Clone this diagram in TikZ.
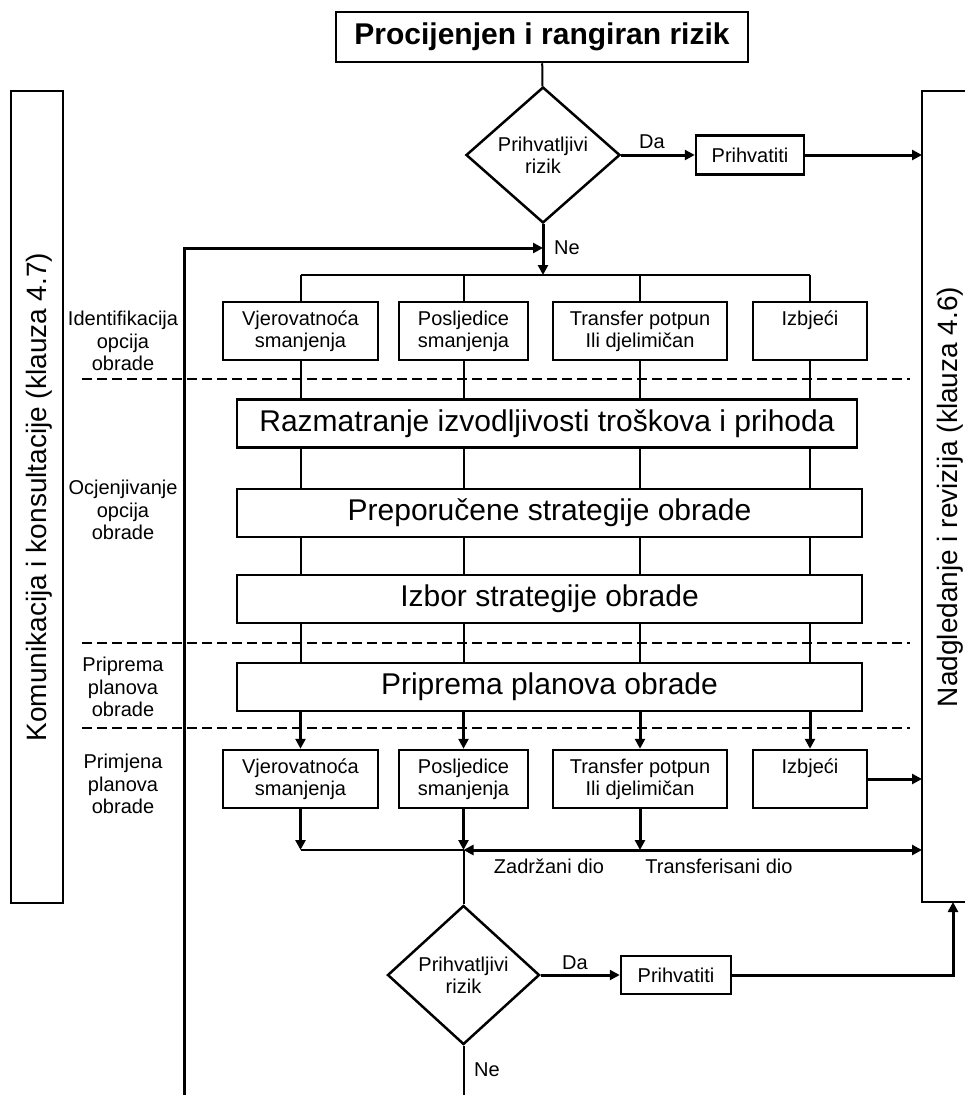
\documentclass[tikz,border=0pt]{standalone}
\usepackage{fontspec}
\setmainfont{Liberation Sans}
\usetikzlibrary{arrows.meta,shapes.geometric}
\begin{document}
\begin{tikzpicture}[x=1pt,y=-1pt,
  font=\fontsize{20}{22}\selectfont,
  bx/.style={draw,line width=2.5pt,inner sep=0pt,align=center},
  smallbox/.style={bx,minimum height=58pt},
  bigbox/.style={bx,minimum height=48pt,minimum width=625pt,font=\fontsize{30}{34}\selectfont},
  dia/.style={draw,diamond,line width=2.5pt,inner sep=0pt,align=center},
  ln/.style={line width=2pt},
  arr/.style={line width=3pt,-{Triangle[length=10pt,width=10pt]}},
  dbl/.style={line width=3pt,{Triangle[length=10pt,width=10pt]}-{Triangle[length=10pt,width=10pt]}},
  dsh/.style={line width=2.5pt,dash pattern=on 10pt off 5pt},
  lbl/.style={inner sep=0pt,align=center},
  phase/.style={lbl,font=\fontsize{20}{22.5}\selectfont},
  side/.style={inner sep=0pt,rotate=90,font=\fontsize{28}{32}\selectfont},
]
\useasboundingbox (0,0) rectangle (965,1095);

% title and first decision
\node[bx,minimum width=412pt,minimum height=50pt,font=\bfseries\fontsize{30}{34}\selectfont] (title) at (542,37) {Procijenjen i rangiran rizik};
\node[dia,minimum width=154pt,minimum height=136pt] (d1) at (543,155) {Prihvatljivi\\rizik};
\node[bx,minimum width=108pt,minimum height=39pt] (p1) at (750,155) {Prihvatiti};

% side boxes
\node[draw,line width=2.5pt,minimum width=52pt,minimum height=812pt,inner sep=0pt] (lbox) at (37,497) {};
\node[side] (llab) at (39,497) {Komunikacija i konsultacije (klauza 4.7)};
\coordinate (rtl) at (922,91);
\coordinate (rbl) at (922,902);
\draw[line width=2.5pt] (990,91) -- (rtl) -- (rbl) -- (990,902);
\node[side] (rlab) at (950,497) {Nadgledanje i revizija (klauza 4.6)};

% phase labels
\node[phase] (ph1) at (123,341) {Identifikacija\\opcija\\obrade};
\node[phase] (ph2) at (123,510) {Ocjenjivanje\\opcija\\obrade};
\node[phase] (ph3) at (123,687) {Priprema\\planova\\obrade};
\node[phase] (ph4) at (123,784) {Primjena\\planova\\obrade};

% dashed separators
\draw[dsh] (82,379) -- (910,379);
\draw[dsh] (82,643) -- (910,643);
\draw[dsh] (82,728) -- (910,728);

% option boxes (top)
\node[smallbox,minimum width=155pt] (t1) at (300.5,331) {Vjerovatnoća\\smanjenja};
\node[smallbox,minimum width=129pt] (t2) at (463.5,331) {Posljedice\\smanjenja};
\node[smallbox,minimum width=174pt] (t3) at (640,331) {Transfer potpun\\Ili djelimičan};
\node[smallbox,minimum width=114pt] (t4) at (810,331) {Izbjeći\\\phantom{g}};

% big boxes
\node[bigbox,minimum width=620pt] (b1) at (547,423.5) {Razmatranje izvodljivosti troškova i prihoda};
\node[bigbox] (b2) at (549.5,513) {Preporučene strategije obrade};
\node[bigbox] (b3) at (549.5,599) {Izbor strategije obrade};
\node[bigbox] (b4) at (549.5,687) {Priprema planova obrade};

% option boxes (bottom)
\node[smallbox,minimum width=155pt] (u1) at (300.5,779) {Vjerovatnoća\\smanjenja};
\node[smallbox,minimum width=129pt] (u2) at (463.5,779) {Posljedice\\smanjenja};
\node[smallbox,minimum width=174pt] (u3) at (640,779) {Transfer potpun\\Ili djelimičan};
\node[smallbox,minimum width=114pt] (u4) at (810,779) {Izbjeći\\\phantom{g}};

% second decision
\node[dia,minimum width=152pt,minimum height=139pt] (d2) at (463.5,975) {Prihvatljivi\\rizik};
\node[bx,minimum width=110pt,minimum height=38pt] (p2) at (676,975) {Prihvatiti};

% labels
\node[lbl] (da1) at (652,142) {Da};
\node[lbl] (ne1) at (567,248) {Ne};
\node[lbl] (da2) at (575,963) {Da};
\node[lbl] (ne2) at (487,1070) {Ne};
\node[lbl] (zd) at (549,866) {Zadržani dio};
\node[lbl] (td) at (719,866) {Transferisani dio};

% connectors top
\coordinate (busy) at (0,275);
\coordinate (fbb) at (184,1095);
\coordinate (fbt) at (184,248);
\draw[ln] (title) -- (d1);
\draw[arr] (d1.east) -- (p1.west);
\draw[arr] (p1.east) -- (p1.east -| rtl);
\draw[arr] (fbb) -- (fbt) -- (fbt -| d1.south);
\draw[arr] (d1.south) -- (d1.south |- busy);
\draw[ln] (t1.north |- busy) -- (t4.north |- busy);
\foreach \i in {1,2,3,4}{
  \draw[ln] (t\i.north |- busy) -- (t\i.north);
  \draw[ln] (t\i.south) -- (t\i.south |- b1.north);
  \draw[ln] (t\i.south |- b1.south) -- (t\i.south |- b2.north);
  \draw[ln] (t\i.south |- b2.south) -- (t\i.south |- b3.north);
  \draw[ln] (t\i.south |- b3.south) -- (t\i.south |- b4.north);
  \draw[arr] (t\i.south |- b4.south) -- (u\i.north);
}

% connectors bottom
\coordinate (by) at (0,850);
\coordinate (rbx) at (953,902);
\coordinate (bot) at (0,1095);
\foreach \i in {1,2,3}{
  \draw[arr] (u\i.south) -- (u\i.south |- by);
}
\draw[ln] (u1.south |- by) -- (u2.south |- by);
\draw[dbl] (u2.south |- by) -- (by -| rtl);
\draw[arr] (u4.east) -- (u4.east -| rtl);
\draw[ln] (u2.south |- by) -- (d2.north);
\draw[arr] (d2.east) -- (p2.west);
\draw[arr] (p2.east) -- (p2.east -| rbx) -- (rbx);
\draw[ln] (d2.south) -- (d2.south |- bot);
\end{tikzpicture}
\end{document}
